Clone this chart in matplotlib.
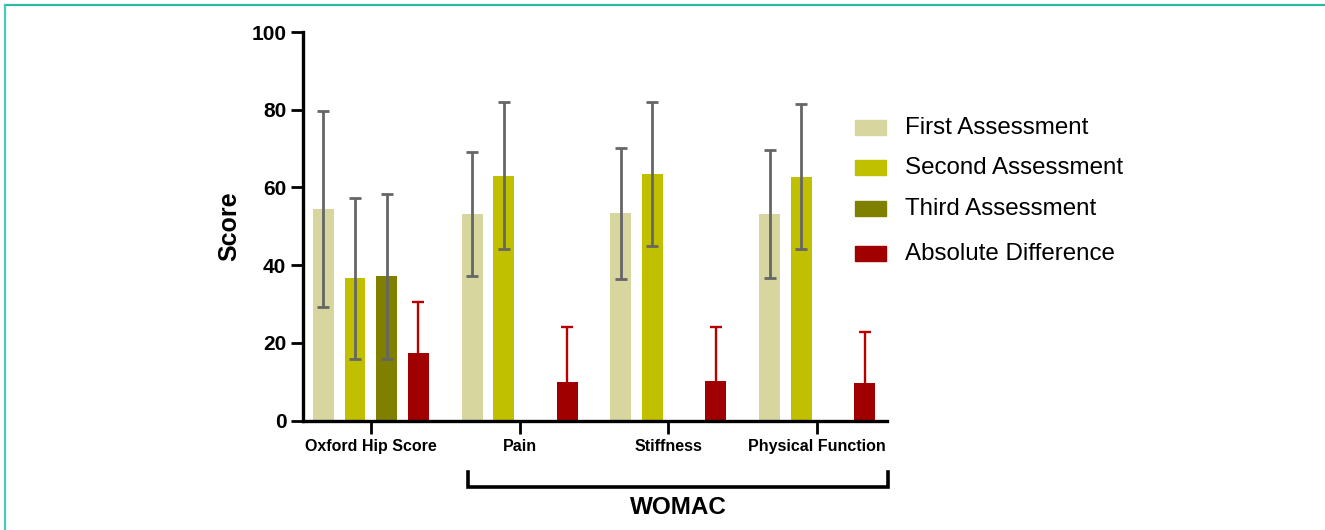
import numpy as np
import matplotlib
matplotlib.use("Agg")
import matplotlib.pyplot as plt
from matplotlib.patches import Rectangle
from matplotlib.lines import Line2D
import matplotlib.transforms as mtransforms

plt.rcParams['font.family'] = ['Liberation Sans', 'DejaVu Sans']

categories = ["Oxford Hip Score", "Pain", "Stiffness", "Physical Function"]
series_names = ["First Assessment", "Second Assessment", "Third Assessment", "Absolute Difference"]
first_mean = [54.4, 53.1, 53.3, 53.1]
first_sd = [25.3, 15.9, 16.8, 16.4]
second_mean = [36.6, 63.0, 63.4, 62.8]
second_sd = [20.7, 18.9, 18.5, 18.7]
third_mean = [37.1, np.nan, np.nan, np.nan]
third_sd = [21.2, np.nan, np.nan, np.nan]
absdiff_mean = [17.3, 9.9, 10.2, 9.7]
absdiff_sd = [13.1, 14.1, 13.9, 13.1]
group_label = "WOMAC"
y_ticks = [0, 20, 40, 60, 80, 100]

colors = ["#D6D69E", "#C0C000", "#808000", "#A00000"]
err_colors = ["#666666", "#666666", "#666666", "#B80000"]

W, H = 1325, 530
fig = plt.figure(figsize=(W / 100, H / 100), dpi=100)
ax = fig.add_axes([303 / W, 1 - 420.5 / H, (887 - 303) / W, (420.5 - 32) / H])

x = np.arange(len(categories))
step = 0.213
width = 0.141
means = [first_mean, second_mean, third_mean, absdiff_mean]
sds = [first_sd, second_sd, third_sd, absdiff_sd]

for k in range(4):
    m = np.array(means[k], dtype=float)
    s = np.array(sds[k], dtype=float)
    xs = x + (k - 1.5) * step
    ok = ~np.isnan(m)
    ax.bar(xs[ok], m[ok], width=width, color=colors[k], zorder=2)
    if k < 3:
        yerr = [s[ok], s[ok]]
        lw = 2.0
    else:
        yerr = [np.zeros(ok.sum()), s[ok]]
        lw = 1.7
    _, caps, _ = ax.errorbar(xs[ok], m[ok], yerr=yerr, fmt='none', ecolor=err_colors[k],
                             elinewidth=lw, capsize=4.5, capthick=lw, zorder=3)
    if k == 3:
        caps[0].set_visible(False)

ax.set_xlim(-0.456, 3.47)
ax.set_ylim(0, 100)
ax.set_yticks(y_ticks)
ax.set_yticklabels([str(t) for t in y_ticks], fontsize=15, fontweight='bold')
ax.set_xticks(x)
ax.set_xticklabels(categories, fontsize=11.5, fontweight='bold')
ax.tick_params(axis='both', width=2, length=9, color='black')
ax.tick_params(axis='x', pad=4)
ax.tick_params(axis='y', pad=3)
for sp in ['top', 'right']:
    ax.spines[sp].set_visible(False)
for sp in ['left', 'bottom']:
    ax.spines[sp].set_linewidth(2.4)
ax.set_ylabel("Score", fontsize=18, fontweight='bold')
ax.yaxis.set_label_coords((241 - 303) / 584, 0.5)

# WOMAC bracket
trans = mtransforms.blended_transform_factory(ax.transData, ax.transAxes)
bx0, bx1 = 0.65, 3.48
yb, yt = -0.171, -0.133
ax.add_line(Line2D([bx0, bx0, bx1, bx1], [yt, yb, yb, yt], transform=trans,
                   color='black', lw=2.6, clip_on=False, solid_joinstyle='miter'))
ax.text((bx0 + bx1) / 2, -0.225, group_label, transform=trans, ha='center', va='center',
        fontsize=17.5, fontweight='bold')

# Legend
leg_y = [127, 167, 208, 253]
for name, c, yy in zip(series_names, colors, leg_y):
    fig.patches.append(Rectangle((855 / W, 1 - (yy + 7.5) / H), 31 / W, 15 / H,
                                 transform=fig.transFigure, color=c))
    fig.text(905 / W, 1 - (yy + 1) / H, name, fontsize=17.4, va='center', ha='left')

# teal frame
fig.add_artist(Line2D([4.5 / W, 1], [1 - 4.5 / H, 1 - 4.5 / H], transform=fig.transFigure,
                      color='#2DB9A5', lw=1.6))
fig.add_artist(Line2D([4.5 / W, 4.5 / W], [0, 1 - 4.5 / H], transform=fig.transFigure,
                      color='#45CCBC', lw=1.6))

fig.savefig("out.png", dpi=100)
